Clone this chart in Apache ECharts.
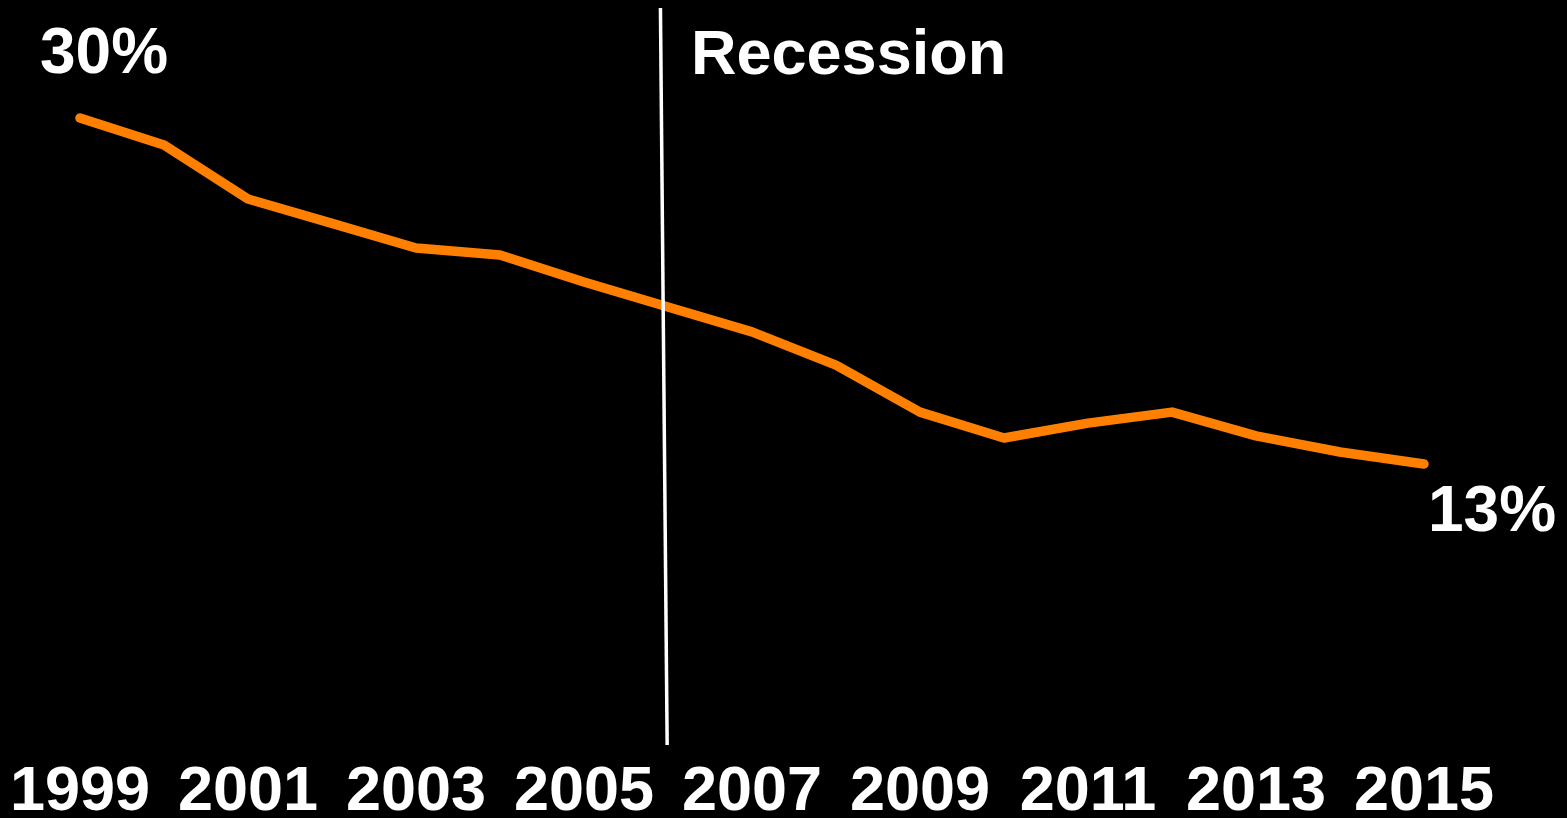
<!DOCTYPE html>
<html>
<head>
<meta charset="utf-8">
<title>Share by year, 1999–2015</title>
<script src="https://cdn.jsdelivr.net/npm/echarts@6/dist/echarts.min.js"></script>
<style>
  html, body { margin: 0; padding: 0; background: #000; overflow: hidden; }
  #chart { width: 1567px; height: 818px; }
</style>
</head>
<body>
<div id="chart"></div>
<script>
// Yearly share (percent)
const years = [1999, 2000, 2001, 2002, 2003, 2004, 2005, 2006, 2007,
               2008, 2009, 2010, 2011, 2012, 2013, 2014, 2015];
const share = [30, 28.67, 26.02, 24.82, 23.61, 23.27, 21.94, 20.71, 19.49,
               17.86, 15.55, 14.28, 15.01, 15.55, 14.38, 13.59, 13];

// Recession marker: [year, percent] at its two ends
const recessionYears = [2005.91, 2005.99];
const recessionLevels = [35.4, -0.8];
const recessionText = 'Recession';

const FONT = '"Liberation Sans", Arial, sans-serif';
const ORANGE = '#FF8000';

const lastIdx = share.length - 1;
const lineData = years.map((y, i) => {
  const item = { value: [y, share[i]] };
  if (i === 0) {
    item.label = { show: true, offset: [24, -63] };
  } else if (i === lastIdx) {
    item.label = { show: true, offset: [68, 49] };
  }
  return item;
});

const chart = echarts.init(document.getElementById('chart'), null, { renderer: 'canvas' });
chart.setOption({
  backgroundColor: '#000',
  animation: false,
  grid: {
    left: 80, right: 143, top: 6, bottom: 69,
    containLabel: false,
    outerBoundsMode: 'none'
  },
  xAxis: {
    type: 'value',
    min: 1999,
    max: 2015,
    interval: 2,
    axisLine: { show: false },
    axisTick: { show: false },
    splitLine: { show: false },
    axisLabel: {
      color: '#fff',
      fontFamily: FONT,
      fontWeight: 'bold',
      fontSize: 63,
      margin: 12,
      hideOverlap: false,
      formatter: v => String(v)
    }
  },
  yAxis: {
    type: 'value',
    min: -1,
    max: 35.5,
    show: false,
    splitLine: { show: false }
  },
  series: [
    {
      type: 'line',
      data: lineData,
      symbol: 'circle',
      symbolSize: 2,
      itemStyle: { color: ORANGE },
      lineStyle: { color: ORANGE, width: 9.5, cap: 'round', join: 'round' },
      label: {
        show: false,
        position: 'inside',
        color: '#fff',
        fontFamily: FONT,
        fontWeight: 'bold',
        fontSize: 64,
        align: 'center',
        verticalAlign: 'middle',
        formatter: p => p.value[1] + '%'
      },
      z: 2
    },
    {
      type: 'line',
      data: recessionYears.map((y, i) => [y, recessionLevels[i]]),
      symbol: 'none',
      lineStyle: { color: '#fff', width: 3.5 },
      silent: true,
      z: 3
    }
  ],
  graphic: [
    {
      type: 'text',
      left: 691,
      top: 25,
      style: {
        text: recessionText,
        fill: '#fff',
        font: 'bold 63px ' + FONT
      }
    }
  ]
});
</script>
</body>
</html>
